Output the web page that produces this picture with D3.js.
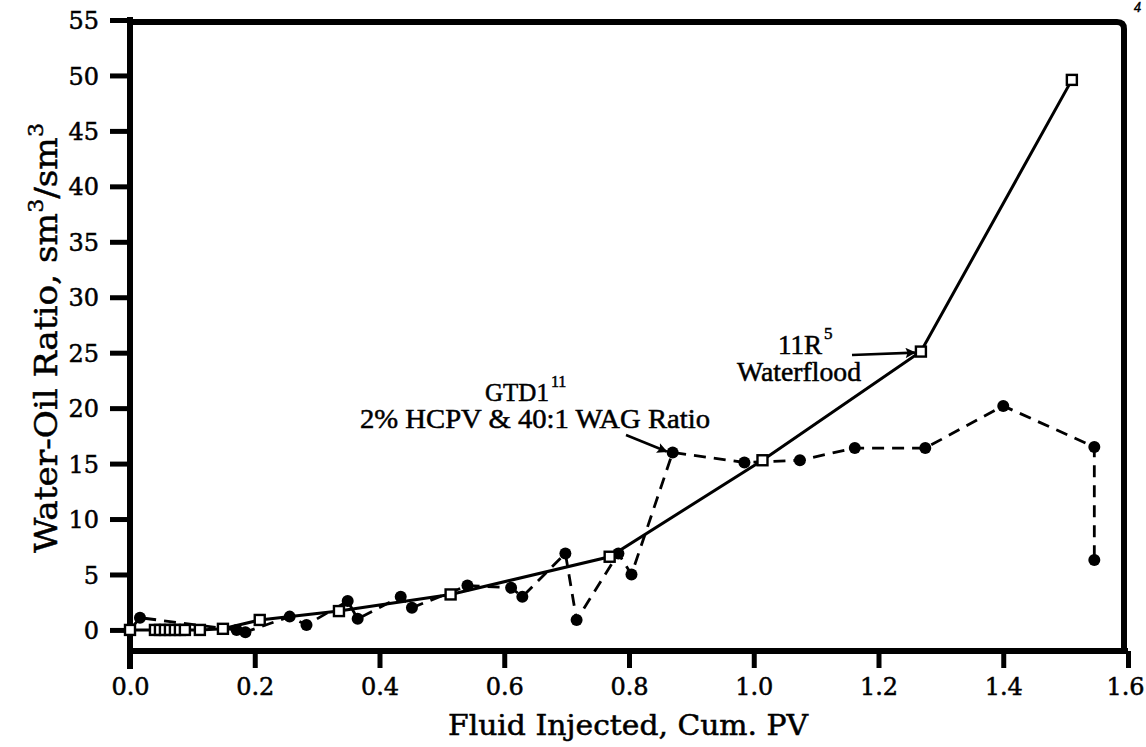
<!DOCTYPE html>
<html>
<head>
<meta charset="utf-8">
<script src="https://cdn.jsdelivr.net/npm/d3@7"></script>
<style>
  html, body { margin: 0; padding: 0; background: #fff; }
  svg text { font-family: "Liberation Serif", "DejaVu Serif", serif; fill: #000; stroke: #000; stroke-width: 0.5px; }
  .wide { font-family: "DejaVu Serif", serif; }
</style>
</head>
<body>
<svg id="chart" width="1146" height="747"></svg>
<script>
// 11R waterflood: cumulative PV injected vs water-oil ratio
const waterfloodPV  = [0, 0.040, 0.048, 0.056, 0.064, 0.072, 0.080, 0.088, 0.112, 0.149, 0.208, 0.335, 0.514, 0.769, 1.014, 1.268, 1.510];
const waterfloodWOR = [0, 0, 0, 0, 0, 0, 0, 0, 0, 0.1, 0.9, 1.7, 3.2, 6.6, 15.3, 25.1, 49.6];

// GTD1 WAG injection (2% HCPV, 40:1 WAG ratio)
const gtdPV  = [0, 0.016, 0.171, 0.185, 0.256, 0.283, 0.349, 0.365, 0.434, 0.452, 0.541, 0.611, 0.629, 0.698, 0.716, 0.783, 0.804, 0.870, 0.985, 1.074, 1.162, 1.275, 1.400, 1.546, 1.546];
const gtdWOR = [0, 1.1, 0.0, -0.2, 1.2, 0.45, 2.6, 1.0, 3.0, 2.0, 4.0, 3.8, 3.0, 6.9, 0.9, 6.9, 5.0, 16.0, 15.1, 15.3, 16.4, 16.4, 20.2, 16.5, 6.3];

const xTicks = [0, 0.2, 0.4, 0.6, 0.8, 1.0, 1.2, 1.4, 1.6];
const yTicks = [0, 5, 10, 15, 20, 25, 30, 35, 40, 45, 50, 55];

const svg = d3.select("#chart");

const x = d3.scaleLinear().domain([0, 1.6]).range([130, 1128]);
const y = d3.scaleLinear().domain([-1.9, 55]).range([651, 20]);

const axisW = 6;

// Frame: top and right borders with a rounded corner
const frameRight = 1124, frameTop = 22, cornerR = 7;
svg.append("path")
  .attr("d", `M${x(0)},${frameTop} L${frameRight - cornerR},${frameTop} Q${frameRight},${frameTop} ${frameRight},${frameTop + cornerR} L${frameRight},${y(-1.9)}`)
  .attr("fill", "none").attr("stroke", "#000").attr("stroke-width", axisW);

// Y axis
const yAxis = d3.axisLeft(y).tickValues(yTicks).tickFormat(d3.format("d")).tickSize(20).tickPadding(11);
const gy = svg.append("g").attr("transform", `translate(${x(0)},0)`).call(yAxis);
gy.select(".domain").remove();
gy.selectAll(".tick line").attr("stroke-width", 5).attr("stroke", "#000");
gy.selectAll(".tick text").style("font-size", "24px")
  .style("font-family", "DejaVu Serif").attr("dy", "0.36em");
svg.append("line").attr("x1", x(0)).attr("x2", x(0)).attr("y1", y(55) - 3).attr("y2", 669)
  .attr("stroke", "#000").attr("stroke-width", axisW);

// X axis
const xAxis = d3.axisBottom(x).tickValues(xTicks).tickFormat(d3.format(".1f")).tickSize(17).tickPadding(10);
const gx = svg.append("g").attr("transform", `translate(0,${y(-1.9)})`).call(xAxis);
gx.select(".domain").remove();
gx.selectAll(".tick line").attr("stroke-width", 5).attr("stroke", "#000");
gx.selectAll(".tick text").style("font-size", "24px").style("font-family", "DejaVu Serif");
gx.selectAll(".tick text").filter(d => d === 1.6).attr("dx", -3);
svg.append("line").attr("x1", x(0) - 3).attr("x2", x(1.6)).attr("y1", y(-1.9)).attr("y2", y(-1.9))
  .attr("stroke", "#000").attr("stroke-width", axisW);

// Axis titles
svg.append("text").attr("class", "wide").attr("x", 628).attr("y", 735).attr("text-anchor", "middle")
  .attr("textLength", 360).attr("lengthAdjust", "spacingAndGlyphs")
  .style("font-size", "27px").text("Fluid Injected, Cum. PV");

const yTitle = svg.append("text").attr("class", "wide").attr("transform", "translate(57,338) rotate(-90)")
  .attr("text-anchor", "middle").attr("textLength", 430).attr("lengthAdjust", "spacingAndGlyphs")
  .style("font-size", "31px");
yTitle.append("tspan").text("Water-Oil Ratio, sm");
yTitle.append("tspan").attr("dy", -14).style("font-size", "20px").text("3");
yTitle.append("tspan").attr("dy", 14).text("/sm");
yTitle.append("tspan").attr("dy", -14).style("font-size", "20px").text("3");

// GTD1 series: dashed line with filled circles
const gtd = gtdPV.map((v, i) => [v, gtdWOR[i]]);
svg.append("path").datum(gtd)
  .attr("d", d3.line().x(d => x(d[0])).y(d => y(d[1])))
  .attr("fill", "none").attr("stroke", "#000").attr("stroke-width", 2.8)
  .attr("stroke-dasharray", "12,8");
svg.selectAll("circle.gtd").data(gtd.slice(1)).join("circle")
  .attr("class", "gtd")
  .attr("cx", d => x(d[0])).attr("cy", d => y(d[1])).attr("r", 6).attr("fill", "#000");

// Waterflood series: solid line with open squares
const wf = waterfloodPV.map((v, i) => [v, waterfloodWOR[i]]);
svg.append("path").datum(wf)
  .attr("d", d3.line().x(d => x(d[0])).y(d => y(d[1])))
  .attr("fill", "none").attr("stroke", "#000").attr("stroke-width", 3);
svg.selectAll("rect.wf").data(wf).join("rect")
  .attr("class", "wf")
  .attr("x", d => x(d[0]) - 5).attr("y", d => y(d[1]) - 5)
  .attr("width", 10).attr("height", 10)
  .attr("fill", "#fff").attr("stroke", "#000").attr("stroke-width", 2.4);

// Arrowhead marker
svg.append("defs").append("marker")
  .attr("id", "arrow").attr("viewBox", "0 0 10 10").attr("refX", 9).attr("refY", 5)
  .attr("markerWidth", 6).attr("markerHeight", 4).attr("orient", "auto")
  .append("path").attr("d", "M0,0 L10,5 L0,10 L2,5 Z").attr("fill", "#000");

// GTD1 annotation
const gtdTarget = gtd[17];
const g1 = svg.append("text").attr("x", 485).attr("y", 401).style("font-size", "25px");
g1.append("tspan").text("GTD1");
g1.append("tspan").attr("dx", 2).attr("dy", -14).style("font-size", "16px").text("11");
svg.append("text").attr("x", 535).attr("y", 428).attr("text-anchor", "middle")
  .attr("textLength", 350).attr("lengthAdjust", "spacingAndGlyphs")
  .style("font-size", "27px").text("2% HCPV & 40:1 WAG Ratio");
svg.append("line")
  .attr("x1", 626).attr("y1", 435)
  .attr("x2", x(gtdTarget[0]) - 6).attr("y2", y(gtdTarget[1]) - 1)
  .attr("stroke", "#000").attr("stroke-width", 2.6).attr("marker-end", "url(#arrow)");

// 11R waterflood annotation
const wfTarget = wf[15];
const w1 = svg.append("text").attr("x", 778).attr("y", 354).style("font-size", "27px");
w1.append("tspan").text("11R");
w1.append("tspan").attr("dx", 2).attr("dy", -15).style("font-size", "17px").text("5");
svg.append("text").attr("x", 799).attr("y", 381).attr("text-anchor", "middle")
  .attr("textLength", 124).attr("lengthAdjust", "spacingAndGlyphs")
  .style("font-size", "27px").text("Waterflood");
svg.append("line")
  .attr("x1", 852).attr("y1", 355)
  .attr("x2", x(wfTarget[0]) - 6).attr("y2", y(wfTarget[1]) + 1)
  .attr("stroke", "#000").attr("stroke-width", 2.6).attr("marker-end", "url(#arrow)");

// Page number in the corner
svg.append("text").attr("x", 1134).attr("y", 12).style("font-size", "14px").style("font-style", "italic").text("4");
</script>
</body>
</html>
